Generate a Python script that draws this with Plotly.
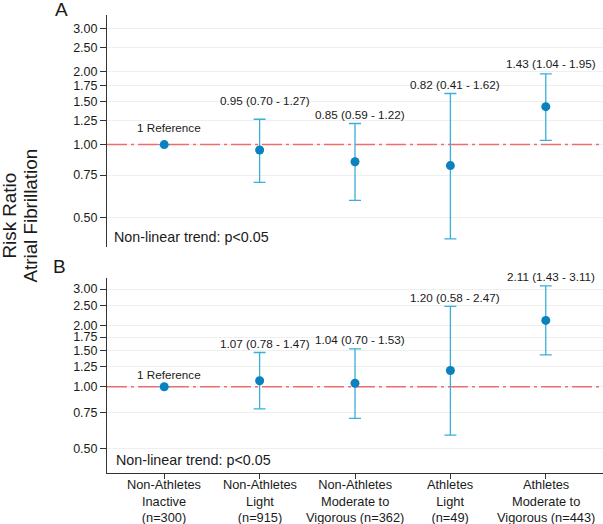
import math
import plotly.graph_objects as go

# ---------------- data ----------------
categories = [
    "Non-Athletes<br>Inactive<br>(n=300)",
    "Non-Athletes<br>Light<br>(n=915)",
    "Non-Athletes<br>Moderate to<br>Vigorous (n=362)",
    "Athletes<br>Light<br>(n=49)",
    "Athletes<br>Moderate to<br>Vigorous (n=443)",
]
rr_a = [1.00, 0.95, 0.85, 0.82, 1.43]
lo_a = [1.00, 0.70, 0.59, 0.41, 1.04]
hi_a = [1.00, 1.27, 1.22, 1.62, 1.95]

rr_b = [1.00, 1.07, 1.04, 1.20, 2.11]
lo_b = [1.00, 0.78, 0.70, 0.58, 1.43]
hi_b = [1.00, 1.47, 1.53, 2.47, 3.11]

y_ticks = [0.50, 0.75, 1.00, 1.25, 1.50, 1.75, 2.00, 2.50, 3.00]
reference_value = 1.0
trend_text = "Non-linear trend: p<0.05"
panel_names = ["A", "B"]
y_title_lines = ["Risk Ratio", "Atrial Fibrillation"]

# ---------------- style ----------------
W, H = 603, 524
FONT = "Liberation Sans, Arial, Helvetica, sans-serif"
MARKER_C = "#0B82BE"
ERR_C = "#3AAFDA"
REF_C = "#F26B6B"
GRID_C = "#EFEFEF"
AX_C = "#333333"
TXT_C = "#1a1a1a"

x_range = [-0.6, 4.6]
y_range_log = [math.log10(0.38), math.log10(3.40)]
x_dom = [107 / W, 1.0]
dom_top = [1 - 247 / H, 1 - 15 / H]
dom_bot = [1 - 472.7 / H, 1 - 278 / H]

# per-label vertical offsets (px) of value labels above the upper CI
label_shift_a = [17, 19, 9, 9, 10]
label_shift_b = [12, 9, 9, 9, 9]

xs = list(range(len(categories)))


def label_text(r, l, h):
    if l == h == r == reference_value:
        return "1 Reference"
    return f"{r:.2f} ({l:.2f} - {h:.2f})"


fig = go.Figure()
annotations = []

for rr, lo, hi, xa, ya, shifts in [
    (rr_a, lo_a, hi_a, "x", "y", label_shift_a),
    (rr_b, lo_b, hi_b, "x2", "y2", label_shift_b),
]:
    # reference line
    fig.add_trace(go.Scatter(
        x=x_range, y=[reference_value, reference_value], mode="lines",
        line=dict(color=REF_C, width=1.5, dash="20px,4px,3px,4px"),
        xaxis=xa, yaxis=ya, hoverinfo="skip", showlegend=False,
    ))
    fig.add_trace(go.Scatter(
        x=xs, y=rr, mode="markers",
        marker=dict(color=MARKER_C, size=9),
        error_y=dict(type="data", symmetric=False,
                     array=[h - r for h, r in zip(hi, rr)],
                     arrayminus=[r - l for r, l in zip(rr, lo)],
                     color=ERR_C, thickness=1.3, width=6),
        xaxis=xa, yaxis=ya, showlegend=False,
    ))
    for i, (r, l, h) in enumerate(zip(rr, lo, hi)):
        annotations.append(dict(
            x=xs[i], y=math.log10(h), xref=xa, yref=ya,
            text=label_text(r, l, h), showarrow=False,
            xanchor="center", yanchor="middle", xshift=5, yshift=shifts[i],
            font=dict(family=FONT, size=11.7, color=TXT_C),
        ))

# category labels (bottom)
for i, cat in enumerate(categories):
    annotations.append(dict(
        x=xs[i], y=1 - 501 / H, xref="x2", yref="paper",
        text=cat, showarrow=False, xanchor="center", yanchor="middle",
        align="center", borderpad=0,
        font=dict(family=FONT, size=12.8, color=TXT_C),
    ))

# trend text
for ypx, xpx in [(236.7, 111.5), (460, 114)]:
    annotations.append(dict(
        x=xpx / W, y=1 - ypx / H, xref="paper", yref="paper",
        text=trend_text, showarrow=False, xanchor="left", yanchor="middle",
        font=dict(family=FONT, size=14.3, color=TXT_C),
    ))

# panel letters
for name, (xpx, ypx) in zip(panel_names, [(61, 10), (59, 266)]):
    annotations.append(dict(
        x=xpx / W, y=1 - ypx / H, xref="paper", yref="paper",
        text=name, showarrow=False, xanchor="center", yanchor="middle",
        font=dict(family=FONT, size=19, color=TXT_C),
    ))

# y-axis title (two lines)
for line, xpx in zip(y_title_lines, [8.5, 29.5]):
    annotations.append(dict(
        x=xpx / W, y=1 - 216 / H, xref="paper", yref="paper",
        text=line, showarrow=False, textangle=-90,
        xanchor="center", yanchor="middle",
        font=dict(family=FONT, size=18.8, color=TXT_C),
    ))

yaxis_common = dict(
    type="log", range=y_range_log, tickvals=y_ticks,
    ticktext=[f"{v:.2f}" for v in y_ticks],
    showline=True, linecolor=AX_C, linewidth=1,
    ticks="outside", ticklen=6, tickcolor=AX_C, tickwidth=1,
    showgrid=True, gridcolor=GRID_C, gridwidth=1, zeroline=False,
    tickfont=dict(family=FONT, size=12.5, color=TXT_C),
    automargin=False, fixedrange=True,
)

fig.update_layout(
    width=W, height=H,
    margin=dict(l=0, r=0, t=0, b=0),
    paper_bgcolor="white", plot_bgcolor="white",
    showlegend=False,
    xaxis=dict(domain=x_dom, range=x_range, anchor="y",
               showline=False, showgrid=False, zeroline=False,
               showticklabels=False, ticks="", fixedrange=True),
    yaxis=dict(domain=dom_top, anchor="x", **yaxis_common),
    xaxis2=dict(domain=x_dom, range=x_range, anchor="y2",
                showline=True, linecolor=AX_C, linewidth=1,
                showgrid=False, zeroline=False, showticklabels=False,
                tickvals=xs, ticks="outside", ticklen=5, tickcolor=AX_C,
                fixedrange=True),
    yaxis2=dict(domain=dom_bot, anchor="x2", **yaxis_common),
    annotations=annotations,
)

fig.write_html(
    "out.html",
    config={"displayModeBar": False},
    post_script="document.body.style.margin='0';document.body.style.padding='0';",
)
